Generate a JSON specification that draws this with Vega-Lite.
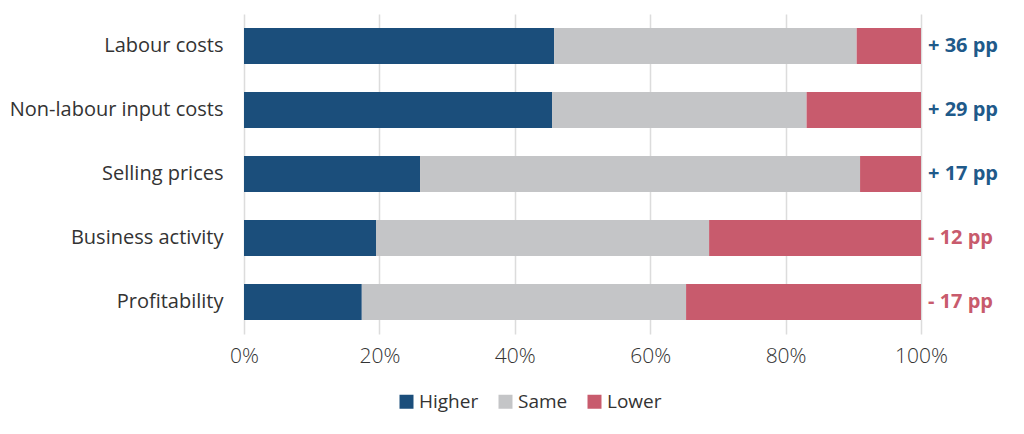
{
  "$schema": "https://vega.github.io/schema/vega-lite/v6.json",
  "width": 677,
  "height": 320,
  "autosize": "none",
  "padding": {"left": 244, "top": 14, "right": 103, "bottom": 100},
  "background": "white",
  "config": {
    "view": {"stroke": null},
    "font": "Open Sans",
    "axis": {"labelFont": "Open Sans", "labelColor": "#333333", "titleFont": "Open Sans"},
    "legend": {"labelFont": "Open Sans"}
  },
  "datasets": {
    "bars": [
      {"category": "Labour costs", "response": "Higher", "rank": 1, "value": 0.458},
      {"category": "Labour costs", "response": "Same", "rank": 2, "value": 0.447},
      {"category": "Labour costs", "response": "Lower", "rank": 3, "value": 0.095},
      {"category": "Non-labour input costs", "response": "Higher", "rank": 1, "value": 0.455},
      {"category": "Non-labour input costs", "response": "Same", "rank": 2, "value": 0.376},
      {"category": "Non-labour input costs", "response": "Lower", "rank": 3, "value": 0.169},
      {"category": "Selling prices", "response": "Higher", "rank": 1, "value": 0.26},
      {"category": "Selling prices", "response": "Same", "rank": 2, "value": 0.65},
      {"category": "Selling prices", "response": "Lower", "rank": 3, "value": 0.09},
      {"category": "Business activity", "response": "Higher", "rank": 1, "value": 0.195},
      {"category": "Business activity", "response": "Same", "rank": 2, "value": 0.492},
      {"category": "Business activity", "response": "Lower", "rank": 3, "value": 0.313},
      {"category": "Profitability", "response": "Higher", "rank": 1, "value": 0.174},
      {"category": "Profitability", "response": "Same", "rank": 2, "value": 0.479},
      {"category": "Profitability", "response": "Lower", "rank": 3, "value": 0.347}
    ],
    "net": [
      {"category": "Labour costs", "net": 36, "label": "+ 36 pp"},
      {"category": "Non-labour input costs", "net": 29, "label": "+ 29 pp"},
      {"category": "Selling prices", "net": 17, "label": "+ 17 pp"},
      {"category": "Business activity", "net": -12, "label": "- 12 pp"},
      {"category": "Profitability", "net": -17, "label": "- 17 pp"}
    ]
  },
  "encoding": {
    "y": {
      "field": "category",
      "type": "nominal",
      "sort": ["Labour costs", "Non-labour input costs", "Selling prices", "Business activity", "Profitability"],
      "scale": {"paddingInner": 0.4375, "paddingOuter": 0.21875},
      "axis": {"title": null, "domain": false, "ticks": false, "labelFontSize": 20, "labelPadding": 21, "labelLimit": 300, "labelColor": "#333333"}
    }
  },
  "layer": [
    {
      "data": {"name": "bars"},
      "mark": {"type": "bar"},
      "encoding": {
        "x": {
          "field": "value",
          "type": "quantitative",
          "stack": "zero",
          "scale": {"domain": [0, 1], "nice": false},
          "axis": {"title": null, "format": ".0%", "values": [0, 0.2, 0.4, 0.6, 0.8, 1], "domain": false, "ticks": false, "grid": true, "gridColor": "#dcdcdc", "gridWidth": 1.5, "labelFlush": false, "labelFontSize": 21, "labelPadding": 11, "labelColor": "#333333", "labelFontWeight": 300}
        },
        "color": {
          "field": "response",
          "type": "nominal",
          "sort": ["Higher", "Same", "Lower"],
          "scale": {"domain": ["Higher", "Same", "Lower"], "range": ["#1b4e7b", "#c4c5c7", "#c85b6d"]},
          "legend": {
            "title": null,
            "orient": "none",
            "direction": "horizontal",
            "legendX": 153,
            "legendY": 378,
            "symbolType": "square",
            "symbolSize": 196,
            "symbolStrokeWidth": 0,
            "labelFontSize": 19,
            "labelColor": "#333333",
            "labelOffset": 3,
            "columnPadding": 17
          }
        },
        "order": {"field": "rank", "type": "quantitative", "sort": "ascending"}
      }
    },
    {
      "data": {"name": "net"},
      "mark": {"type": "text", "align": "left", "baseline": "middle", "dx": 7, "fontSize": 20, "fontWeight": "bold"},
      "encoding": {
        "x": {"datum": 1, "type": "quantitative"},
        "text": {"field": "label"},
        "color": {"condition": {"test": "datum.net > 0", "value": "#1f5a8a"}, "value": "#c85b6d"}
      }
    }
  ]
}
